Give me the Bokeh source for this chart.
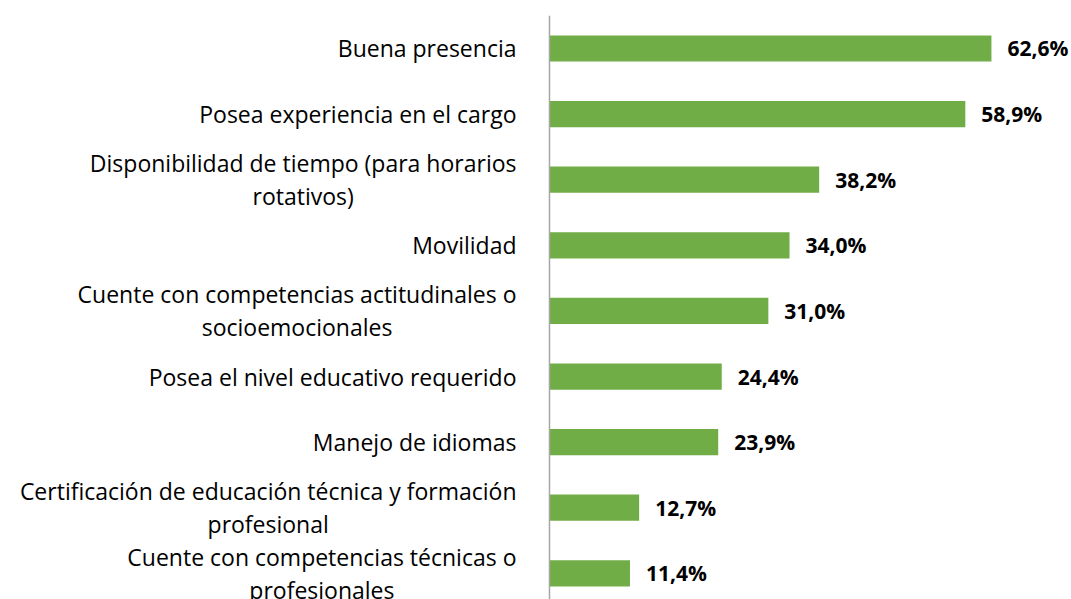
from bokeh.plotting import figure
from bokeh.models import ColumnDataSource, Range1d, Span
from bokeh.core.properties import value
from bokeh.embed import file_html
from bokeh.resources import INLINE

categories = [
    "Buena presencia",
    "Posea experiencia en el cargo",
    "Disponibilidad de tiempo (para horarios\nrotativos)",
    "Movilidad",
    "Cuente con competencias actitudinales o\nsocioemocionales",
    "Posea el nivel educativo requerido",
    "Manejo de idiomas",
    "Certificación de educación técnica y formación\nprofesional",
    "Cuente con competencias técnicas o\nprofesionales",
]
values = [62.6, 58.9, 38.2, 34.0, 31.0, 24.4, 23.9, 12.7, 11.4]
value_labels = ["62,6%", "58,9%", "38,2%", "34,0%", "31,0%", "24,4%", "23,9%", "12,7%", "11,4%"]

pos = list(range(len(categories)))
src = ColumnDataSource(dict(y=pos, v=values, cat=categories, lab=value_labels,
                            zero=[0] * len(pos)))

p = figure(width=1071, height=599, output_backend="svg", toolbar_location=None,
           x_range=Range1d(-77.76, 73.94), y_range=Range1d(8.399, -0.503),
           min_border_left=0, min_border_right=0, min_border_top=15, min_border_bottom=0)
p.outline_line_color = None
p.xaxis.visible = False
p.yaxis.visible = False
p.xgrid.visible = False
p.ygrid.visible = False

p.hbar(y="y", left=0, right="v", height=0.4, source=src, fill_color="#70AD47",
       line_color=None)

p.add_layout(Span(location=0, dimension="height", line_color="#A6A6A6", line_width=1.5))

p.text(x="zero", y="y", text="cat", source=src, x_offset=-33, anchor="center_right",
       text_align="center", text_baseline="middle", text_font=value("Open Sans"),
       text_font_size="23px", text_color="#000000", text_line_height=1.03)

p.text(x="v", y="y", text="lab", source=src, x_offset=16, text_align="left",
       text_baseline="middle", text_font=value("Open Sans"), text_font_style="bold",
       text_font_size="21px", text_color="#000000")

open("out.html", "w").write(file_html(p, INLINE))
